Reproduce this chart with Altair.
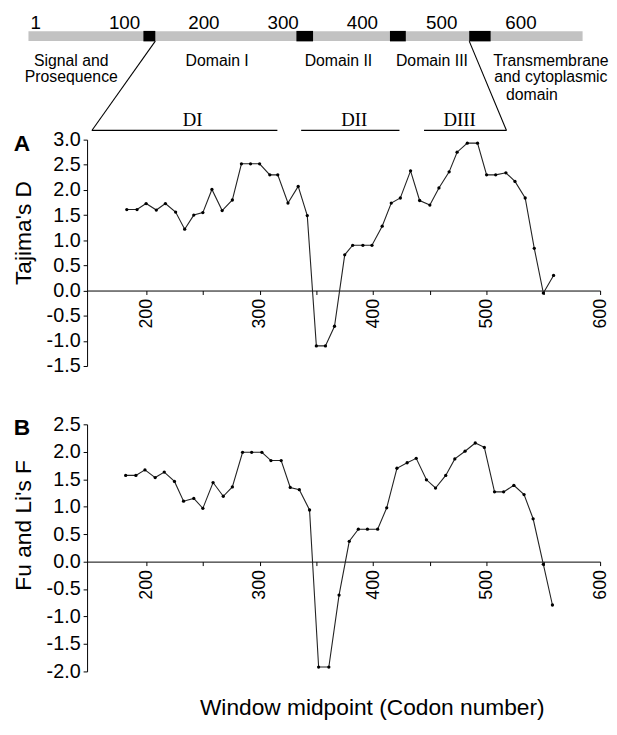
import altair as alt
import pandas as pd

# ---------------- protein diagram (codon units) ----------------
bar_start = [1]
bar_end = [700]
box_start = [146, 339, 457, 557]
box_end = [161, 360, 477, 584]
scale_marks = [1, 100, 200, 300, 400, 500, 600]
region_names = ["Signal and\nProsequence", "Domain I", "Domain II", "Domain III",
                "Transmembrane\nand cytoplasmic"]
region_pos = [55, 239, 392, 510, 660]
region_tail = ["domain"]
region_tail_pos = [636]
zoom_top = [161, 557]
zoom_bottom = [81, 604]
domain_names = ["DI", "DII", "DIII"]
domain_start = [81, 345, 500]
domain_end = [315, 469, 604]
domain_label_pos = [208, 412, 545]

# ---------------- sliding-window statistics ----------------
codon_a = [183, 192, 200, 209, 217, 226, 234, 242, 250, 258,
           267, 276, 284, 292, 300, 309, 316, 325, 334, 342,
           350, 358, 366, 375, 382, 391, 399, 408, 416, 424,
           433, 441, 450, 458, 467, 474, 483, 492, 500, 508,
           517, 525, 534, 542, 550, 559]
tajima_d = [1.61, 1.61, 1.73, 1.60, 1.73, 1.56, 1.22, 1.50, 1.55, 2.01,
            1.59, 1.80, 2.52, 2.52, 2.52, 2.30, 2.30, 1.74, 2.07, 1.49,
            -1.10, -1.10, -0.71, 0.71, 0.90, 0.90, 0.90, 1.28, 1.74, 1.84,
            2.38, 1.79, 1.70, 2.04, 2.36, 2.75, 2.93, 2.93, 2.30, 2.30,
            2.34, 2.17, 1.84, 0.84, -0.05, 0.30]
codon_b = [182, 191, 199, 208, 216, 225, 233, 242, 250, 259,
           268, 276, 285, 293, 302, 310, 319, 327, 335, 344,
           352, 361, 370, 379, 387, 395, 404, 412, 421, 430,
           438, 447, 455, 464, 472, 481, 490, 498, 507, 515,
           524, 533, 541, 550, 558]
fu_li_f = [1.57, 1.57, 1.67, 1.53, 1.63, 1.46, 1.10, 1.15, 0.97, 1.44,
           1.19, 1.36, 1.99, 1.99, 1.99, 1.84, 1.84, 1.35, 1.31, 0.94,
           -1.92, -1.92, -0.61, 0.37, 0.59, 0.59, 0.59, 0.98, 1.70, 1.80,
           1.88, 1.49, 1.34, 1.57, 1.87, 2.01, 2.16, 2.08, 1.27, 1.27,
           1.39, 1.22, 0.78, -0.05, -0.79]

x_ticks = [200, 250, 300, 350, 400, 450, 500, 550, 600]
ya_ticks = [-1.5, -1.0, -0.5, 0.0, 0.5, 1.0, 1.5, 2.0, 2.5, 3.0]
yb_ticks = [-2.0, -1.5, -1.0, -0.5, 0.0, 0.5, 1.0, 1.5, 2.0, 2.5]
title_a = "Tajima's D"
title_b = "Fu and Li's F"
x_title = ["Window midpoint (Codon number)"]
panel_a = ["A"]
panel_b = ["B"]

W = 519
FONT = "Liberation Sans"
MINUS = "\u2212"
ylab = f"replace(format(datum.value, '.1f'), '{MINUS}', '-')"
xlab = "datum.value % 100 == 0 ? format(datum.value, 'd') : ''"

# ---------------- diagram chart ----------------
dx_scale = alt.Scale(domain=[74.94, 722.1], nice=False, zero=False)

bar = alt.Chart(pd.DataFrame({"s": bar_start, "e": bar_end})).mark_rect(color="#c2c2c2").encode(
    x=alt.X("s:Q", scale=dx_scale, axis=None), x2="e:Q",
    y=alt.value(19.3), y2=alt.value(29.3))
boxes = alt.Chart(pd.DataFrame({"s": box_start, "e": box_end})).mark_rect(color="black").encode(
    x=alt.X("s:Q", scale=dx_scale, axis=None), x2="e:Q",
    y=alt.value(19.0), y2=alt.value(29.6))
nums = alt.Chart(pd.DataFrame({"n": scale_marks})).mark_text(
    align="left", baseline="alphabetic", dx=2, fontSize=19, font=FONT, color="black").encode(
    x=alt.X("n:Q", scale=dx_scale, axis=None), text=alt.Text("n:Q", format="d"),
    y=alt.value(17))
regions = alt.Chart(pd.DataFrame({"t": region_names, "p": region_pos})).mark_text(
    align="center", baseline="alphabetic", fontSize=16, font=FONT, lineBreak="\n",
    lineHeight=17, color="black").encode(
    x=alt.X("p:Q", scale=dx_scale, axis=None), text="t:N", y=alt.value(54))
tail = alt.Chart(pd.DataFrame({"t": region_tail, "p": region_tail_pos})).mark_text(
    align="center", baseline="alphabetic", fontSize=16, font=FONT, color="black").encode(
    x=alt.X("p:Q", scale=dx_scale, axis=None), text="t:N", y=alt.value(88.5))
zoomlines = alt.Chart(pd.DataFrame({"a": zoom_top, "b": zoom_bottom})).mark_rule(
    color="black", strokeWidth=1.1).encode(
    x=alt.X("a:Q", scale=dx_scale, axis=None), x2="b:Q",
    y=alt.value(29.3), y2=alt.value(119.7))
dlines = alt.Chart(pd.DataFrame({"s": domain_start, "e": domain_end})).mark_rule(
    color="black", strokeWidth=1.2).encode(
    x=alt.X("s:Q", scale=dx_scale, axis=None), x2="e:Q", y=alt.value(119.7))
dlabels = alt.Chart(pd.DataFrame({"t": domain_names, "p": domain_label_pos})).mark_text(
    align="center", baseline="alphabetic", fontSize=19, font="Liberation Serif", color="black").encode(
    x=alt.X("p:Q", scale=dx_scale, axis=None), text="t:N", y=alt.value(114.7))

diagram = alt.layer(bar, boxes, nums, regions, tail, zoomlines, dlines, dlabels).properties(
    width=W, height=70)


# ---------------- panels ----------------
def panel(codons, vals, fld, ydom, yticks, ytitle, title_y, height, offset, letter, extra=None):
    df = pd.DataFrame({"codon": codons, fld: vals})
    x = alt.X("codon:Q", scale=alt.Scale(domain=[148, 600], nice=False, zero=False),
              axis=alt.Axis(values=x_ticks, labelExpr=xlab, labelAngle=-90, offset=offset,
                            title=None, tickSize=4, labelPadding=4, labelFontSize=18,
                            labelFont=FONT, grid=False))
    y = alt.Y(f"{fld}:Q", scale=alt.Scale(domain=ydom, nice=False, zero=False),
              axis=alt.Axis(values=yticks, labelExpr=ylab, title=ytitle, titleFontSize=23,
                            titleFontWeight="normal", titleFont=FONT, titleAngle=270,
                            titleBaseline="alphabetic", titleAlign="center",
                            titleX=-57.7, titleY=title_y, tickSize=4, labelPadding=3,
                            labelFontSize=20, labelFont=FONT, grid=False))
    line = alt.Chart(df).mark_line(color="#222222", strokeWidth=1.1).encode(x=x, y=y)
    pts = alt.Chart(df).mark_circle(size=11, color="black", opacity=1).encode(x=x, y=y)
    lab = alt.Chart(pd.DataFrame({"t": letter})).mark_text(
        align="left", baseline="alphabetic", fontSize=23, fontWeight="bold", font=FONT,
        color="black").encode(text="t:N", x=alt.value(-74.3), y=alt.value(11.3))
    layers = [line, pts, lab]
    if extra is not None:
        layers.append(extra)
    return alt.layer(*layers).properties(width=W, height=height)


xt = alt.Chart(pd.DataFrame({"t": x_title})).mark_text(
    align="center", baseline="alphabetic", fontSize=23, font=FONT, color="black").encode(
    text="t:N", x=alt.value(288.5), y=alt.value(294))

pa = panel(codon_a, tajima_d, "d", [-1.5, 3.0], ya_ticks, title_a, 94, 229, -76.33, panel_a)
pb = panel(codon_b, fu_li_f, "f", [-2.0, 2.5], yb_ticks, title_b, 101.7, 250, -111.1, panel_b, xt)

chart = alt.vconcat(diagram, pa, pb, spacing=59, bounds="flush").resolve_scale(
    x="independent", y="independent").properties(
    padding={"left": 4, "top": 0, "right": 0, "bottom": 0}
).configure_view(strokeWidth=0).configure_axis(
    domainColor="black", tickColor="black", labelColor="black", titleColor="black",
    domainWidth=1, tickWidth=1)

chart.save("out.html", embed_options={"renderer": "svg", "actions": False})
